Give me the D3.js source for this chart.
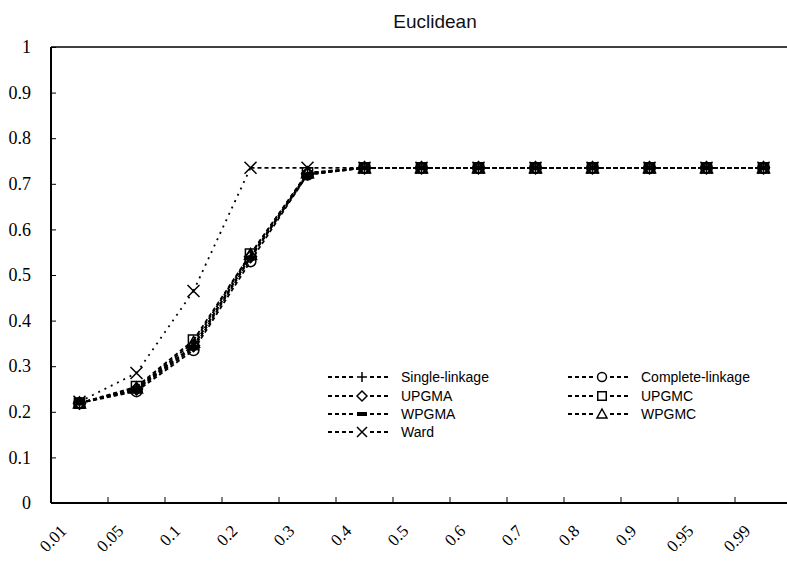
<!DOCTYPE html>
<html><head><meta charset="utf-8">
<script src="https://cdn.jsdelivr.net/npm/d3@7"></script>
<style>body{margin:0;background:#fff}svg{display:block}
.serif{font-family:"Liberation Serif","DejaVu Serif","Noto Serif",serif}
</style>
</head><body>
<svg id="c" width="787" height="561"></svg>
<script>
const categories = ["0.01","0.05","0.1","0.2","0.3","0.4","0.5","0.6","0.7","0.8","0.9","0.95","0.99"];
const singleLinkage   = [0.219,0.250,0.345,0.540,0.722,0.735,0.735,0.735,0.735,0.735,0.735,0.735,0.735];
const completeLinkage = [0.219,0.245,0.335,0.530,0.720,0.735,0.735,0.735,0.735,0.735,0.735,0.735,0.735];
const upgma           = [0.219,0.250,0.345,0.540,0.722,0.735,0.735,0.735,0.735,0.735,0.735,0.735,0.735];
const upgmc           = [0.219,0.255,0.357,0.546,0.724,0.735,0.735,0.735,0.735,0.735,0.735,0.735,0.735];
const wpgma           = [0.219,0.248,0.340,0.537,0.720,0.735,0.735,0.735,0.735,0.735,0.735,0.735,0.735];
const wpgmc           = [0.219,0.252,0.352,0.545,0.724,0.735,0.735,0.735,0.735,0.735,0.735,0.735,0.735];
const ward            = [0.222,0.285,0.465,0.735,0.735,0.735,0.735,0.735,0.735,0.735,0.735,0.735,0.735];
const yTicks = [0,0.1,0.2,0.3,0.4,0.5,0.6,0.7,0.8,0.9,1];
const title = "Euclidean";

const series = [
  {name:"Single-linkage", values:singleLinkage, marker:"plus", col:0,row:0},
  {name:"Complete-linkage", values:completeLinkage, marker:"circle", col:1,row:0},
  {name:"UPGMA", values:upgma, marker:"diamond", col:0,row:1},
  {name:"UPGMC", values:upgmc, marker:"square", col:1,row:1},
  {name:"WPGMA", values:wpgma, marker:"bar", col:0,row:2},
  {name:"WPGMC", values:wpgmc, marker:"triangle", col:1,row:2},
  {name:"Ward", values:ward, marker:"cross", col:0,row:3, ward:true}
];

const SANS = "'Liberation Sans', Arial, sans-serif";
const svg = d3.select("#c");
const L=51, R=51+57*13, T=47, B=503;
const x = d3.scaleBand().domain(categories).range([L,R]);
const y = d3.scaleLinear().domain([0,1]).range([B,T]);
const cx = c => x(c)+x.bandwidth()/2;

// title
svg.append("text").attr("x",435).attr("y",28).attr("text-anchor","middle")
  .style("font-family",SANS).style("font-size","19px").attr("fill","#111").text(title);

// frame top
svg.append("line").attr("x1",L).attr("x2",787).attr("y1",T).attr("y2",T).attr("stroke","#000").attr("stroke-width",1.5);

// y axis
const ya = svg.append("g").attr("transform",`translate(${L},0)`)
  .call(d3.axisLeft(y).tickValues(yTicks).tickSize(-5).tickPadding(20).tickFormat(d3.format("~g")));
ya.attr("font-family",null).attr("font-size",null).attr("class","serif");
ya.select(".domain").attr("stroke-width",2).attr("d",`M0,${T}V${B}`);
ya.selectAll(".tick line").attr("stroke-width",1);
ya.selectAll("text").attr("class","serif").style("font-size","18px").attr("fill","#000");

// x axis
const xa = svg.append("g").attr("transform",`translate(0,${B})`)
  .call(d3.axisBottom(x).tickSize(0).tickPadding(0));
xa.attr("font-family",null).attr("font-size",null).attr("class","serif");
xa.select(".domain").attr("stroke-width",2).attr("d",`M${L},0H787`);
xa.selectAll(".tick text").attr("class","serif").style("font-size","17px").attr("fill","#000")
  .attr("text-anchor","end").attr("dy",null).attr("y",0)
  .attr("transform","translate(-12,29) rotate(-45)");
// category boundary ticks
svg.append("g").selectAll("line").data(categories.slice(1).concat(["__end"]))
  .join("line")
  .attr("x1",(d,i)=> i<categories.length-1 ? x(d) : R).attr("x2",(d,i)=> i<categories.length-1 ? x(d) : R)
  .attr("y1",B).attr("y2",B-6).attr("stroke","#000").attr("stroke-width",1);

// markers
function marker(g, type, s){
  const p = g.append("path").attr("fill","none").attr("stroke","#000").attr("stroke-width",1.5);
  switch(type){
    case "plus": p.attr("d",`M${-s},0H${s}M0,${-s}V${s}`); break;
    case "cross": p.attr("d",`M${-s},${-s}L${s},${s}M${-s},${s}L${s},${-s}`); break;
    case "circle": p.attr("d",d3.symbol(d3.symbolCircle, Math.PI*s*s*0.8)()); break;
    case "diamond": p.attr("d",`M0,${-s}L${s},0L0,${s}L${-s},0Z`); break;
    case "square": p.attr("d",`M${-s*0.85},${-s*0.85}H${s*0.85}V${s*0.85}H${-s*0.85}Z`); break;
    case "triangle": p.attr("d",`M0,${-s}L${s},${s*0.8}H${-s}Z`); break;
    case "bar": p.attr("fill","#000").attr("stroke","none").attr("d",`M${-s},${-s*0.4}H${s}V${s*0.4}H${-s}Z`); break;
  }
}

const line = d3.line().x(d=>cx(d.c)).y(d=>y(d.v));
const plot = svg.append("g");
series.forEach(s=>{
  for(let i=0;i<s.values.length-1;i++){
    const seg=[{c:categories[i],v:s.values[i]},{c:categories[i+1],v:s.values[i+1]}];
    const steep = Math.abs(y(s.values[i+1])-y(s.values[i]))>20;
    plot.append("path").attr("d",line(seg)).attr("fill","none").attr("stroke","#000")
      .attr("stroke-width", 1.8).attr("stroke-dasharray", (s.ward&&steep)?"2,5":"4,3");
  }
});
series.forEach(s=>{
  s.values.forEach((v,i)=>{
    const g = plot.append("g").attr("transform",`translate(${cx(categories[i])},${y(v)})`);
    marker(g, s.marker, 6);
  });
});

// legend
const lg = svg.append("g");
const colX=[328,568], rowY=[377,396,414,432];
series.forEach(s=>{
  const x0=colX[s.col], yy=rowY[s.row];
  lg.append("line").attr("x1",x0).attr("x2",x0+62).attr("y1",yy).attr("y2",yy)
    .attr("stroke","#000").attr("stroke-width",2).attr("stroke-dasharray","4,3");
  const g = lg.append("g").attr("transform",`translate(${x0+34},${yy})`);
  g.append("rect").attr("x",-6).attr("y",-6).attr("width",12).attr("height",12).attr("fill","#fff");
  marker(g, s.marker, 5);
  lg.append("text").attr("x",x0+73).attr("y",yy+5).style("font-family",SANS)
    .style("font-size","14px").attr("fill","#000").text(s.name);
});
</script>
</body></html>
